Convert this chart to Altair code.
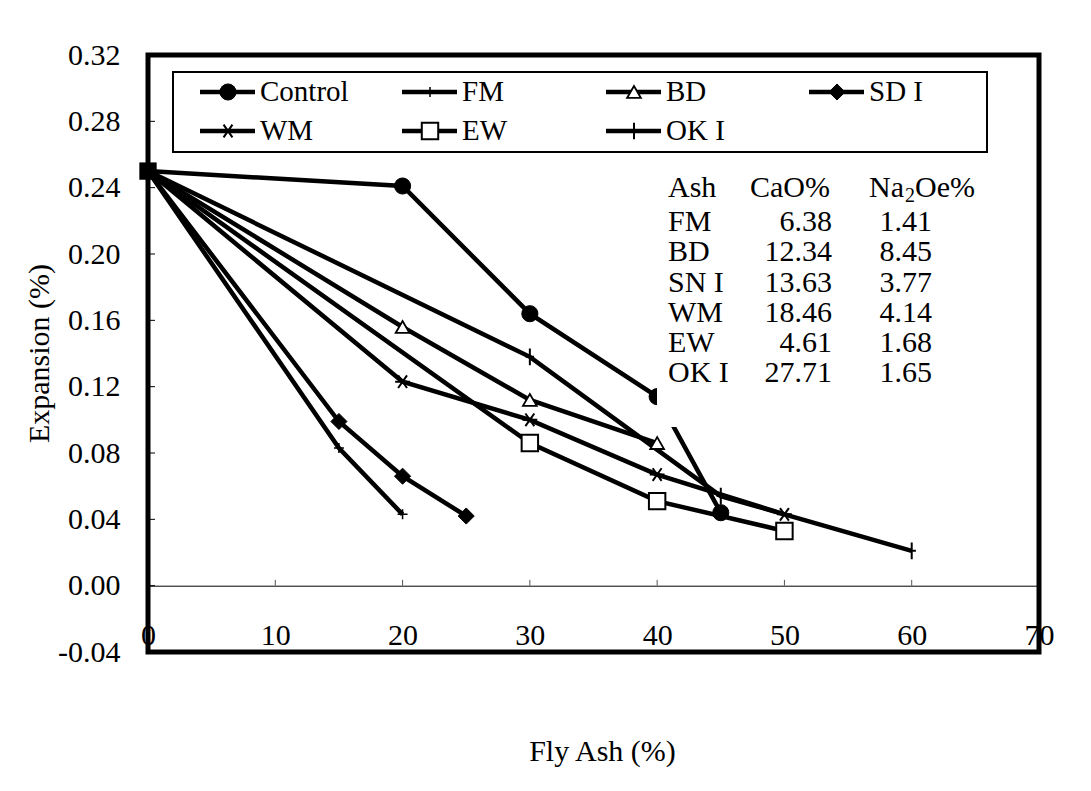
import altair as alt
import pandas as pd

# ---------------- data ----------------
series_names = ["Control", "FM", "BD", "SD I", "WM", "EW", "OK I"]
control_x = [0, 20, 30, 40, 45]
control_y = [0.250, 0.241, 0.164, 0.114, 0.044]
fm_x = [0, 15, 20]
fm_y = [0.250, 0.083, 0.043]
bd_x = [0, 20, 30, 40]
bd_y = [0.250, 0.156, 0.112, 0.086]
sd_x = [0, 15, 20, 25]
sd_y = [0.250, 0.099, 0.066, 0.042]
wm_x = [0, 20, 30, 40, 50]
wm_y = [0.250, 0.123, 0.100, 0.067, 0.043]
ew_x = [0, 30, 40, 50]
ew_y = [0.250, 0.086, 0.051, 0.033]
ok_x = [0, 30, 45, 60]
ok_y = [0.250, 0.138, 0.054, 0.021]

origin_x = [0]
origin_y = [0.250]

table_ash = ["FM", "BD", "SN I", "WM", "EW", "OK I"]
table_cao = ["6.38", "12.34", "13.63", "18.46", "4.61", "27.71"]
table_na2o = ["1.41", "8.45", "3.77", "4.14", "1.68", "1.65"]

x_ticks = [0, 10, 20, 30, 40, 50, 60, 70]
y_ticks = [-0.04, 0.00, 0.04, 0.08, 0.12, 0.16, 0.20, 0.24, 0.28, 0.32]

xs_list = [control_x, fm_x, bd_x, sd_x, wm_x, ew_x, ok_x]
ys_list = [control_y, fm_y, bd_y, sd_y, wm_y, ew_y, ok_y]
rows = []
for name, xs, ys in zip(series_names, xs_list, ys_list):
    for xv, yv in zip(xs, ys):
        rows.append({"series": name, "x": xv, "y": yv})
df = pd.DataFrame(rows)

# ---------------- layout / style ----------------
W, H = 891, 597
PX0, PY0 = 148, 55
FONT = "Liberation Serif, Times New Roman, serif"

XS = alt.Scale(domain=[0, 70], nice=False, zero=False)
YS = alt.Scale(domain=[-0.04, 0.32], nice=False, zero=False)

PLUS = "M-1,0L1,0M0,-1L0,1"
STAR = "M-1,0L1,0M-0.6,-0.85L0.6,0.85M-0.6,0.85L0.6,-0.85"
VTICK = "M0,-1L0,1M-0.5,0L0.5,0"

marker_styles = {
    "Control": dict(shape="circle", filled=True, fill="black", size=260, strokeWidth=1),
    "FM": dict(shape=PLUS, filled=False, size=100, strokeWidth=1.5),
    "BD": dict(shape="triangle-up", filled=True, fill="white", size=190, strokeWidth=1.8),
    "SD I": dict(shape="diamond", filled=True, fill="black", size=260, strokeWidth=1),
    "WM": dict(shape=STAR, filled=False, size=220, strokeWidth=2),
    "EW": dict(shape="square", filled=True, fill="white", size=270, strokeWidth=2),
    "OK I": dict(shape=VTICK, filled=False, size=280, strokeWidth=2),
}

single = alt.Data(values=[{"a": 1}])

layers = []

# lines
lines = alt.Chart(df).mark_line(color="black", strokeWidth=4.5).encode(
    x=alt.X("x:Q", scale=XS, axis=alt.Axis(
        values=x_ticks, format="d", offset=-66.3, domain=True, domainColor="black",
        domainWidth=1, ticks=False, grid=False, labelPadding=35, labelFont=FONT,
        labelFontSize=30, labelColor="black", labelFlush=False, labelOverlap=False,
        title="Fly Ash (%)", titleFont=FONT, titleFontSize=30, titleFontWeight="normal",
        titleColor="black", titleX=454, titleY=175, titleAlign="center",
        titleBaseline="alphabetic")),
    y=alt.Y("y:Q", scale=YS, axis=alt.Axis(
        values=y_ticks, domain=False, ticks=False, grid=False, labelPadding=28,
        labelFont=FONT, labelFontSize=30, labelColor="black", labelOverlap=False,
        labelExpr="datum.value < -0.0001 ? '-' + format(-datum.value, '.2f') : format(abs(datum.value), '.2f')",
        title="Expansion (%)", titleFont=FONT, titleFontSize=30, titleFontWeight="normal",
        titleColor="black", titleX=-100, titleY=298, titleAngle=-90, titleAlign="center",
        titleBaseline="alphabetic")),
    detail="series:N",
    order="x:Q",
)
layers.append(lines)

# markers (excluding the shared origin point)
for name in series_names:
    st = marker_styles[name]
    kw = dict(shape=st["shape"], size=st["size"], stroke="black", strokeWidth=st["strokeWidth"],
              filled=st["filled"], opacity=1)
    if st["filled"]:
        kw["fill"] = st["fill"]
    pts = alt.Chart(df).transform_filter(
        (alt.datum.series == name) & (alt.datum.x > 0)
    ).mark_point(**kw).encode(
        x=alt.X("x:Q", scale=XS), y=alt.Y("y:Q", scale=YS)
    )
    layers.append(pts)

# big square at the common origin point
origin_df = pd.DataFrame({"x": origin_x, "y": origin_y})
layers.append(alt.Chart(origin_df).mark_point(shape="square", filled=True, color="black",
                                             size=300, opacity=1).encode(
    x=alt.X("x:Q", scale=XS), y=alt.Y("y:Q", scale=YS)))

# inner y ticks on the left border
ytick_df = pd.DataFrame({"v": y_ticks[1:-1]})
layers.append(alt.Chart(ytick_df).mark_rule(color="black", strokeWidth=1).encode(
    y=alt.Y("v:Q", scale=YS), x=alt.value(0), x2=alt.value(7)))

# small x ticks on the zero line
xtick_df = pd.DataFrame({"v": x_ticks[1:-1]})
layers.append(alt.Chart(xtick_df).transform_calculate(y0="0", y1="0.0035").mark_rule(
    color="#555555", strokeWidth=1).encode(
    x=alt.X("v:Q", scale=XS), y=alt.Y("y0:Q", scale=YS), y2="y1:Q"))

# white panel behind the table
layers.append(alt.Chart(single).mark_rect(fill="white").encode(
    x=alt.value(509), x2=alt.value(842), y=alt.value(110), y2=alt.value(372)))


def txt(s, x, y, size=30, align="left"):
    return alt.Chart(single).mark_text(text=s, font=FONT, fontSize=size, align=align,
                                       baseline="middle", color="black").encode(
        x=alt.value(x), y=alt.value(y))


# table
layers.append(txt("Ash", 520, 133))
layers.append(txt("CaO%", 602, 133))
layers.append(txt("Na", 721, 133))
layers.append(txt("2", 757, 141, size=20))
layers.append(txt("Oe%", 767, 133))
row_y = [167, 197, 228, 258, 288, 318]
for i, (a, c, n) in enumerate(zip(table_ash, table_cao, table_na2o)):
    layers.append(txt(a, 520, row_y[i]))
    layers.append(txt(c, 684, row_y[i], align="right"))
    layers.append(txt(n, 784, row_y[i], align="right"))

# legend box
layers.append(alt.Chart(single).mark_rect(fill="white", stroke="black", strokeWidth=2).encode(
    x=alt.value(25), x2=alt.value(839), y=alt.value(17), y2=alt.value(97)))

leg_cols = [200 - PX0, 402 - PX0, 606 - PX0, 809 - PX0]
leg_rows = [92 - PY0, 131 - PY0]
leg_pos = {"Control": (0, 0), "FM": (1, 0), "BD": (2, 0), "SD I": (3, 0),
           "WM": (0, 1), "EW": (1, 1), "OK I": (2, 1)}
for name in series_names:
    ci, ri = leg_pos[name]
    x0 = leg_cols[ci]
    yy = leg_rows[ri]
    layers.append(alt.Chart(single).mark_rule(color="black", strokeWidth=4.5).encode(
        x=alt.value(x0), x2=alt.value(x0 + 55), y=alt.value(yy)))
    st = marker_styles[name]
    kw = dict(shape=st["shape"], size=st["size"], stroke="black", strokeWidth=st["strokeWidth"],
              filled=st["filled"], opacity=1)
    if st["filled"]:
        kw["fill"] = st["fill"]
    layers.append(alt.Chart(single).mark_point(**kw).encode(
        x=alt.value(x0 + 28), y=alt.value(yy)))
    layers.append(txt(name, x0 + 60, yy, size=29))

chart = alt.layer(*layers).properties(
    width=W, height=H,
    autosize=alt.AutoSizeParams(type="none"),
    padding={"left": PX0, "top": PY0, "right": 1091 - PX0 - W, "bottom": 791 - PY0 - H},
    background="white",
).configure_view(stroke="black", strokeWidth=5)

chart.save("out.html", embed_options={"renderer": "svg", "actions": False})
